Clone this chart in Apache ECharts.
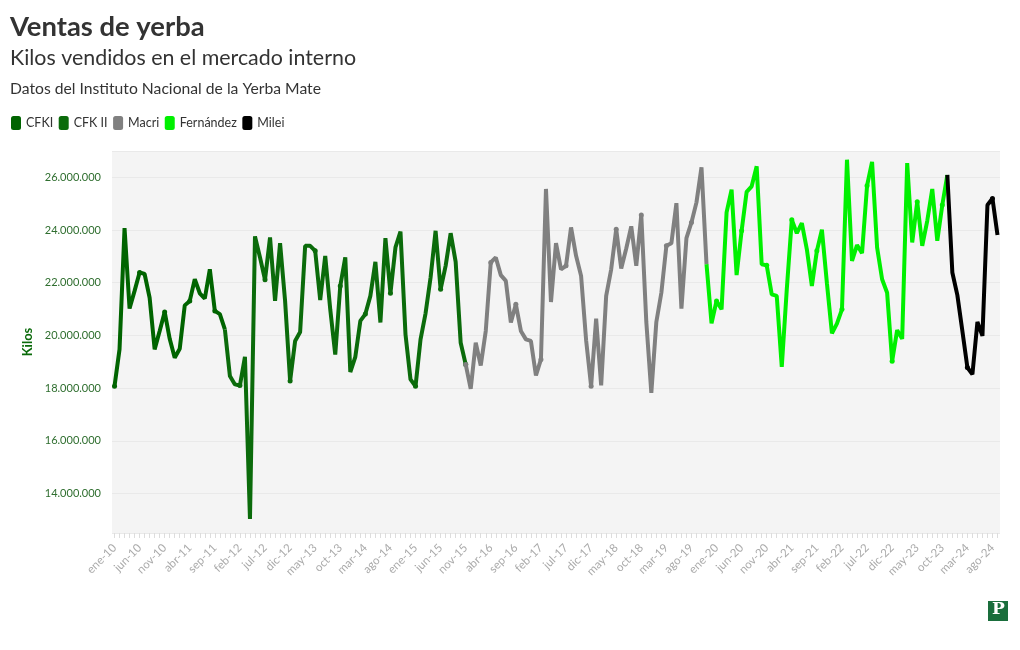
<!DOCTYPE html>
<html>
<head>
<meta charset="utf-8">
<script src="https://cdn.jsdelivr.net/npm/echarts@6/dist/echarts.min.js"></script>
<style>
html,body{margin:0;padding:0;background:#fff;}
#chart{width:1020px;height:650px;}
</style>
</head>
<body>
<div id="chart"></div>
<script>
// Monthly sales (kilos), ene-10 .. sep-24, split by government
const cfk1Values = [18070000, 19470000, 24070000, 21020000, 21690000, 22390000, 22330000, 21430000, 19470000, 20170000, 20890000, 19870000, 19150000, 19490000, 21140000, 21310000, 22130000, 21600000, 21400000, 22510000, 20930000, 20810000];
const cfk2Values = [20230000, 18460000, 18140000, 18100000, 19190000, 13030000, 23760000, 22960000, 22110000, 23720000, 21310000, 23500000, 21310000, 18270000, 19790000, 20130000, 23400000, 23400000, 23210000, 21340000, 23020000, 20990000, 19270000, 21880000, 22960000, 18610000, 19190000, 20550000, 20810000, 21500000, 22790000, 20490000, 23690000, 21600000, 23340000, 23940000, 20040000, 18330000, 18070000, 19850000, 20840000, 22200000, 23970000, 21750000, 22640000, 23880000, 22790000, 19720000];
const macriValues = [18900000, 17970000, 19720000, 18860000, 20170000, 22770000, 22960000, 22290000, 22070000, 20490000, 21180000, 20170000, 19850000, 19790000, 18480000, 19090000, 25560000, 21270000, 23500000, 22510000, 22640000, 24100000, 23020000, 22260000, 19820000, 18070000, 20640000, 18100000, 21500000, 22510000, 24030000, 22540000, 23300000, 24140000, 22640000, 24570000, 20510000, 17820000, 20510000, 21620000, 23400000, 23500000, 25020000, 21020000, 23690000, 24290000, 25050000, 26380000];
const fernandezValues = [22700000, 20460000, 21310000, 20990000, 24670000, 25530000, 22290000, 23970000, 25450000, 25660000, 26420000, 22700000, 22660000, 21560000, 21500000, 18810000, 21750000, 24390000, 23880000, 24260000, 23270000, 21880000, 23210000, 24010000, 21980000, 20080000, 20450000, 20990000, 26670000, 22830000, 23430000, 23120000, 25680000, 26590000, 23340000, 22130000, 21620000, 19020000, 20200000, 19870000, 26540000, 23530000, 25070000, 23400000, 24350000, 25560000, 23590000, 24950000];
const mileiValues = [26090000, 22390000, 21530000, 20170000, 18780000, 18520000, 20510000, 19980000, 24950000, 25200000, 23810000];

const seriesNames = ['CFKI', 'CFK II', 'Macri', 'Fernández', 'Milei'];
const seriesColors = ['#006400', '#0b6b0b', '#808080', '#00f000', '#000000'];
const monthAbbr = ['ene','feb','mar','abr','may','jun','jul','ago','sep','oct','nov','dic'];
const startYear = 2010;

const groups = [cfk1Values, cfk2Values, macriValues, fernandezValues, mileiValues];
const total = groups.reduce((s, g) => s + g.length, 0);
const categories = [];
for (let i = 0; i < total; i++) {
  const y = startYear + Math.floor(i / 12);
  categories.push(monthAbbr[i % 12] + '-' + String(y).slice(2));
}

const series = [];
let offset = 0;
groups.forEach((g, k) => {
  const data = new Array(total).fill(null);
  g.forEach((v, j) => { data[offset + j] = v; });
  // connect to next government's first month
  if (k < groups.length - 1) data[offset + g.length] = groups[k + 1][0];
  series.push({
    name: seriesNames[k],
    type: 'line',
    data: data,
    symbol: 'circle',
    symbolSize: 5,
    showSymbol: true,
    connectNulls: false,
    lineStyle: { width: 4, color: seriesColors[k] },
    itemStyle: { color: seriesColors[k] },
    z: 2 + k,
    animation: false
  });
  offset += g.length;
});

const fmt = v => String(Math.round(v)).replace(/\B(?=(\d{3})+(?!\d))/g, '.');

const chart = echarts.init(document.getElementById('chart'), null, { renderer: 'canvas' });
chart.setOption({
  animation: false,
  backgroundColor: '#ffffff',
  textStyle: { fontFamily: 'Lato, "Noto Sans", sans-serif' },
  title: [
    { text: 'Ventas de yerba', left: 10, top: 14, padding: 0,
      textStyle: { fontSize: 27.4, fontWeight: 'bold', color: '#333333', fontFamily: 'Lato' } },
    { text: 'Kilos vendidos en el mercado interno', left: 10, top: 48, padding: 0,
      textStyle: { fontSize: 21.4, fontWeight: 'normal', color: '#333333', fontFamily: 'Lato' } },
    { text: 'Datos del Instituto Nacional de la Yerba Mate', left: 10, top: 81, padding: 0,
      textStyle: { fontSize: 15.7, fontWeight: 'normal', color: '#333333', fontFamily: 'Lato' } }
  ],
  legend: {
    left: 11, top: 116, padding: 0,
    icon: 'roundRect',
    itemWidth: 10, itemHeight: 14, itemGap: 5.5,
    textStyle: { fontSize: 12.5, color: '#333333', fontFamily: 'Lato' },
    data: seriesNames.map((n, k) => ({ name: n, itemStyle: { color: seriesColors[k] } }))
  },
  grid: {
    left: 112, right: 20, top: 151, bottom: 117,
    show: true, backgroundColor: '#f4f4f4', borderWidth: 0, containLabel: false
  },
  xAxis: {
    type: 'category',
    data: categories,
    boundaryGap: true,
    axisLine: { show: false },
    axisTick: { show: true, interval: 0, alignWithLabel: true, length: 5, lineStyle: { color: '#dddddd' } },
    axisLabel: { interval: 4, rotate: 45, color: '#aaaaaa', fontSize: 11.5, margin: 13, fontFamily: 'Lato' },
    splitLine: { show: false }
  },
  yAxis: {
    type: 'value',
    min: 12500000, max: 27000000, splitNumber: 7,
    name: 'Kilos', nameLocation: 'middle', nameGap: 77, nameRotate: 90,
    nameTextStyle: { fontSize: 13, fontWeight: 'bold', color: '#0a6a0a', fontFamily: 'Lato' },
    axisLine: { show: false },
    axisTick: { show: false },
    axisLabel: { formatter: fmt, color: '#2f6e2f', fontSize: 11, margin: 11, showMinLabel: false, showMaxLabel: false, fontFamily: 'Lato' },
    splitLine: { show: true, lineStyle: { color: '#e9e9e9', width: 1 } }
  },
  graphic: [
    { type: 'rect', left: 988, top: 601, shape: { width: 20, height: 20 }, style: { fill: '#1a6e3c' } },
    { type: 'text', left: 992, top: 601, style: { text: 'P', fill: '#ffffff', font: 'bold 17px "DejaVu Serif", serif' } }
  ],
  series: series
});
</script>
</body>
</html>
